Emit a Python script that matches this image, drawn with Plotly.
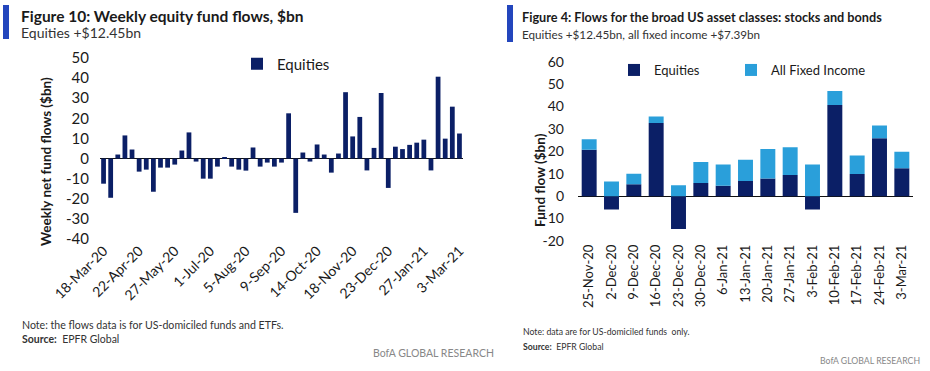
import pandas as pd
import plotly.graph_objects as go

# ---------------- data ----------------
# Left chart: weekly equity fund flows ($bn), 18-Mar-20 .. 3-Mar-21
week_dates = pd.date_range("2020-03-18", "2021-03-03", freq="7D")
week_labels = [f"{d.day}-{d.strftime('%b-%y')}" for d in week_dates]
weekly_equity = [
    -12.5, -19.5, 2.0, 11.5, 4.5, -6.5, -5.5, -16.5, -4.5, -4.5,
    -3.0, 4.0, 13.0, -1.5, -10.0, -10.0, -4.0, 0.7, -4.0, -5.5,
    -6.0, 5.5, -4.0, -2.0, -4.0, -2.0, 22.5, -27.0, 3.0, -1.5,
    7.0, 2.0, -7.0, 2.5, 33.0, 11.0,
    20.7, -5.9, 5.3, 32.6, -14.6, 5.9, 4.7, 6.8, 7.9, 9.4,
    -5.9, 40.7, 9.9, 25.8, 12.45,
]
left_tick_labels = week_labels[::5]
left_y_ticks = [50, 40, 30, 20, 10, 0, -10, -20, -30, -40]

# Right chart: equities & all fixed income ($bn)
right_dates = ["25-Nov-20", "2-Dec-20", "9-Dec-20", "16-Dec-20", "23-Dec-20",
               "30-Dec-20", "6-Jan-21", "13-Jan-21", "20-Jan-21", "27-Jan-21",
               "3-Feb-21", "10-Feb-21", "17-Feb-21", "24-Feb-21", "3-Mar-21"]
right_equities = [20.7, -5.9, 5.3, 32.6, -14.6, 5.9, 4.7, 6.8, 7.9, 9.4,
                  -5.9, 40.7, 9.9, 25.8, 12.45]
right_fixed_income = [4.7, 6.5, 4.7, 3.0, 4.9, 9.3, 9.4, 9.4, 13.2, 12.4,
                      14.1, 6.2, 8.3, 5.7, 7.39]
right_y_ticks = [60, 50, 40, 30, 20, 10, 0, -10, -20]

# ---------------- style ----------------
W, H = 930, 371
NAVY = "#0b1f66"
LIGHT = "#2a9fda"
ACCENT = "#2346bd"
FONT = "Lato"
TXT = "#1a1a1a"


def px(x):
    return x / W


def py(y):
    return 1 - y / H


fig = go.Figure()

fig.add_trace(go.Bar(
    x=week_labels, y=weekly_equity, name="Equities", marker_color=NAVY,
    xaxis="x", yaxis="y", legend="legend", showlegend=True,
))
fig.add_trace(go.Bar(
    x=right_dates, y=right_equities, name="Equities", marker_color=NAVY,
    xaxis="x2", yaxis="y2", legend="legend2", showlegend=True,
))
fig.add_trace(go.Bar(
    x=right_dates, y=right_fixed_income, name="All Fixed Income",
    marker_color=LIGHT, xaxis="x2", yaxis="y2", legend="legend3", showlegend=True,
))

axis_common = dict(showgrid=False, showline=False, ticks="", automargin=False)
legend_common = dict(xanchor="left", yanchor="middle", orientation="h",
                     bgcolor="rgba(0,0,0,0)")

fig.update_layout(
    template="none",
    width=W, height=H, autosize=False,
    margin=dict(l=0, r=0, t=0, b=0, pad=0),
    paper_bgcolor="white", plot_bgcolor="white",
    font=dict(family=FONT, color=TXT),
    showlegend=True,
    barmode="relative", bargap=0.33,
    xaxis=dict(
        domain=[px(100), px(463)], anchor="y", type="category",
        tickmode="array", tickvals=left_tick_labels, ticktext=left_tick_labels,
        tickangle=-45, tickfont=dict(size=14, color=TXT), zeroline=False,
        **axis_common,
    ),
    yaxis=dict(
        domain=[py(239), py(58)], anchor="x", range=[-40, 50],
        tickmode="array", tickvals=left_y_ticks,
        ticktext=[str(v) for v in left_y_ticks],
        tickfont=dict(size=15, color=TXT), ticklabelstandoff=10,
        zeroline=True, zerolinecolor="#111111", zerolinewidth=1.3,
        **axis_common,
    ),
    xaxis2=dict(
        domain=[px(578), px(913)], anchor="y2", type="category",
        tickangle=-90, tickfont=dict(size=13, color=TXT), zeroline=False,
        **axis_common,
    ),
    yaxis2=dict(
        domain=[py(241), py(61.7)], anchor="x2", range=[-20, 60],
        tickmode="array", tickvals=right_y_ticks,
        ticktext=[str(v) for v in right_y_ticks],
        tickfont=dict(size=14, color=TXT), ticklabelstandoff=13,
        zeroline=True, zerolinecolor="#111111", zerolinewidth=1.3,
        **axis_common,
    ),
    legend=dict(x=px(237), y=py(64), font=dict(size=15, color=TXT), **legend_common),
    legend2=dict(x=px(614), y=py(70), font=dict(size=13, color=TXT), **legend_common),
    legend3=dict(x=px(731), y=py(70), font=dict(size=13, color=TXT), **legend_common),
)

# title accent bars
for x0, x1, y0, y1 in [(3, 9, 5, 39), (507, 513, 5, 42)]:
    fig.add_shape(type="rect", xref="paper", yref="paper",
                  x0=px(x0), x1=px(x1), y0=py(y1), y1=py(y0),
                  fillcolor=ACCENT, line_width=0, layer="above")


def note(text, x, y, size, color=TXT, xanchor="left", bold=False, angle=0):
    t = f"<b>{text}</b>" if bold else text
    fig.add_annotation(text=t, x=px(x), y=py(y), xref="paper", yref="paper",
                       xanchor=xanchor, yanchor="middle", showarrow=False,
                       align="left", textangle=angle,
                       font=dict(size=size, color=color, family=FONT))


# left panel texts (title + subtitle as one two-line block)
note("<b><span style='font-size:15.5px'>Figure 10: Weekly equity fund flows, $bn</span></b>"
     "<br><span style='font-size:14px;color:#333333'>Equities +$12.45bn</span>",
     19, 24.5, 12.3)
note("Weekly net fund flows ($bn)", 46, 162, 13.5, bold=True, xanchor="center", angle=-90)
note("Note: the flows data is for US-domiciled funds and ETFs.", 20, 325, 10.6, color="#333333")
note("<b>Source:</b>  EPFR Global", 20, 339, 10.5, color="#333333")
note("BofA GLOBAL RESEARCH", 371, 353, 10.5, color="#888888")

# right panel texts
note("Figure 4: Flows for the broad US asset classes: stocks and bonds", 520, 17, 12.7, bold=True)
note("Equities +$12.45bn, all fixed income +$7.39bn", 520, 34, 11.7, color="#333333")
note("Fund flow ($bn)", 540, 180, 13.5, bold=True, xanchor="center", angle=-90)
note("Note: data are for US-domiciled funds  only.", 521, 331, 8.7, color="#333333")
note("<b>Source:</b>  EPFR Global", 521, 346, 8.7, color="#333333")
note("BofA GLOBAL RESEARCH", 922, 360, 8.7, color="#888888", xanchor="right")

fig.write_html(
    "out.html",
    config={"displayModeBar": False},
    post_script=(
        "document.documentElement.style.margin='0';"
        "document.body.style.margin='0';"
        "document.documentElement.style.overflow='hidden';"
        "document.body.style.overflow='hidden';"
    ),
)
